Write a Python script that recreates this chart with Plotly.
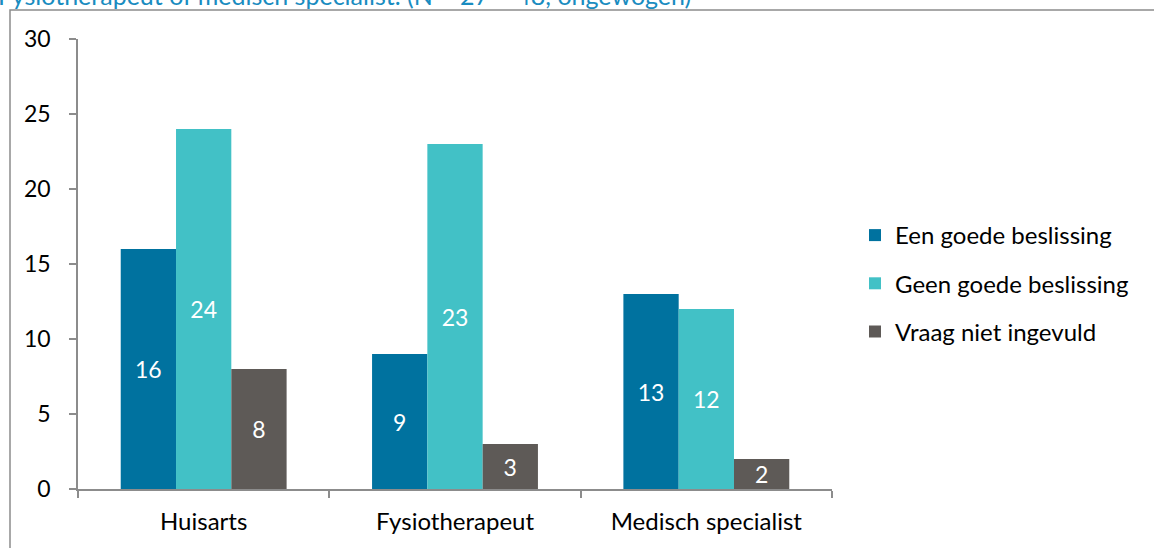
import plotly.graph_objects as go

categories = ["Huisarts", "Fysiotherapeut", "Medisch specialist"]
series_names = ["Een goede beslissing", "Geen goede beslissing", "Vraag niet ingevuld"]
een_goede = [16, 9, 13]
geen_goede = [24, 23, 12]
niet_ingevuld = [8, 3, 2]
y_ticks = [0, 5, 10, 15, 20, 25, 30]
title_text = "Fysiotherapeut of medisch specialist. (N = 27 – 48, ongewogen)"

colors = ["#00729F", "#42C1C6", "#5E5A57"]
FONT = "Lato"

# plot area in pixels
W, H = 1154, 548
L, R, T, B = 78, 1154 - 832, 39, 548 - 489
pw, ph = W - L - R, H - T - B

def px_x(x):
    return (x - L) / pw

def px_y(y):
    return (H - B - y) / ph

fig = go.Figure()
for i, (name, vals) in enumerate(zip(series_names, [een_goede, geen_goede, niet_ingevuld])):
    fig.add_trace(go.Bar(
        x=categories, y=vals, name=name,
        marker=dict(color=colors[i], line=dict(width=0)),
        text=[str(v) for v in vals], textposition="inside",
        insidetextanchor="middle", textangle=0, constraintext="none",
        textfont=dict(color="white", size=23, family=FONT),
        legendgroup=name,
    ))

fig.update_layout(
    width=W, height=H,
    margin=dict(l=L, r=R, t=T, b=B, autoexpand=False),
    paper_bgcolor="white", plot_bgcolor="white",
    barmode="group", bargap=0.34, bargroupgap=0,
    font=dict(family=FONT, size=23, color="#000000"),
    showlegend=True,
    legend=dict(x=px_x(855), y=px_y(213), xanchor="left", yanchor="top",
                font=dict(size=24, family=FONT, color="#000"),
                tracegroupgap=14, itemwidth=30, bgcolor="rgba(0,0,0,0)"),
    xaxis=dict(showline=True, linecolor="#8C8C8C", linewidth=1.5,
               ticks="outside", tickson="boundaries", ticklen=7,
               tickcolor="#8C8C8C", tickwidth=1.5, showgrid=False,
               ticklabelstandoff=10,
               tickfont=dict(size=24, family=FONT), mirror=False),
    yaxis=dict(range=[0, 30], tickvals=y_ticks, showline=True,
               linecolor="#8C8C8C", linewidth=1.5, ticks="outside",
               ticklen=7, tickcolor="#8C8C8C", tickwidth=1.5,
               showgrid=False, zeroline=False, ticklabelstandoff=14,
               tickfont=dict(size=23, family=FONT)),
    shapes=[dict(type="rect", xref="paper", yref="paper",
                 x0=px_x(10), x1=px_x(1200), y0=px_y(600), y1=px_y(10),
                 line=dict(color="#8C8C8C", width=1.5), layer="below")],
    annotations=[dict(text=title_text, xref="paper", yref="paper",
                      x=px_x(-4), y=px_y(-22), xanchor="left", yanchor="top",
                      showarrow=False,
                      font=dict(size=25, family=FONT, color="#1A8CC0"))],
)

fig.write_html("out.html")
